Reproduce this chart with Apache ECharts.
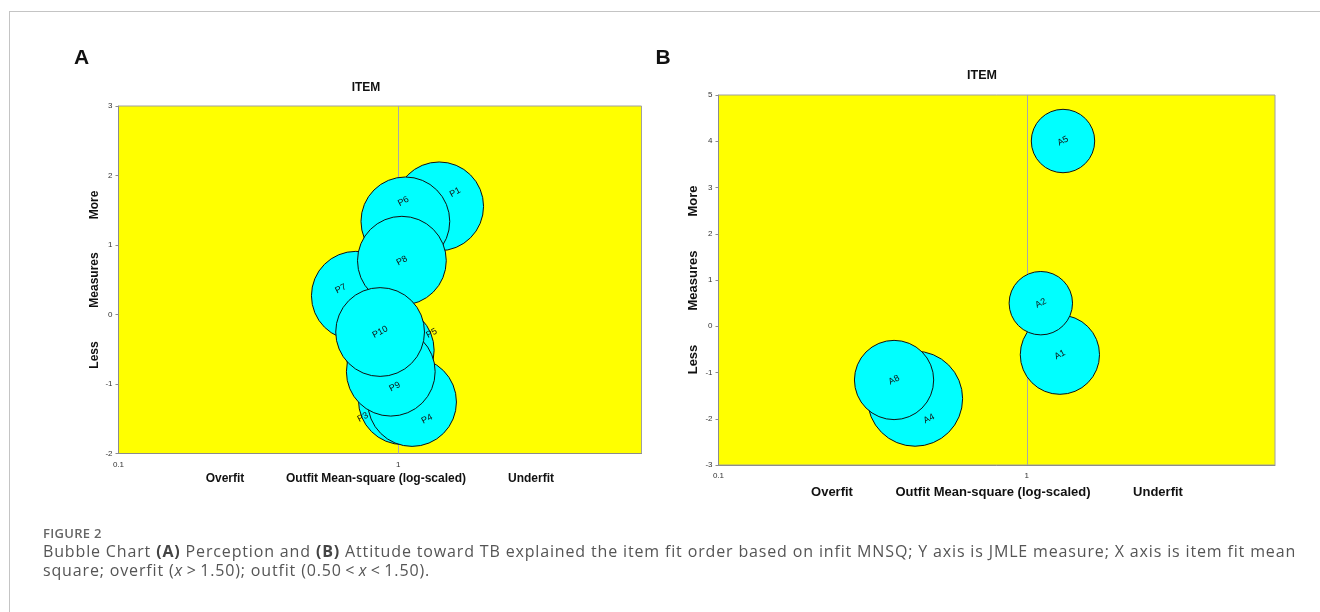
<!DOCTYPE html>
<html><head><meta charset="utf-8">
<script src="https://cdn.jsdelivr.net/npm/echarts@6/dist/echarts.min.js"></script>
<style>
html,body{margin:0;padding:0;background:#fff;width:1320px;height:612px;overflow:hidden;}
#frame{position:absolute;left:9px;top:11px;width:1330px;height:640px;border-left:1px solid #c4c4c4;border-top:1px solid #c4c4c4;}
#chart{position:absolute;left:0;top:0;width:1320px;height:612px;}
#cap{position:absolute;left:43px;top:524px;width:1275px;font-family:'Open Sans','Noto Sans',sans-serif;color:#555;}
#cap .fig{font-size:13px;font-weight:600;line-height:18px;color:#666;letter-spacing:0.3px;}
#cap .txt{font-size:16px;line-height:19px;white-space:nowrap;color:#555;letter-spacing:0.85px;}
#cap b{font-weight:700;color:#444;}
</style></head>
<body>
<div id="frame"></div>
<div id="chart"></div>
<div id="cap">
<div class="fig">FIGURE 2</div>
<div class="txt">Bubble Chart <b>(A)</b> Perception and <b>(B)</b> Attitude toward TB explained the item fit order based on infit MNSQ; Y axis is JMLE measure; X axis is item fit mean<br>square; overfit (<i>x</i>&#8201;&gt;&#8201;1.50); outfit (0.50&#8201;&lt;&#8201;<i>x</i>&#8201;&lt;&#8201;1.50).</div>
</div>
<script>
// ---------- data ----------
const itemsA   = ['P1', 'P6', 'P7', 'P8', 'P3', 'P4', 'P5', 'P9', 'P10'];
const outfitA  = [1.40, 1.06, 0.705, 1.03, 1.038, 1.12, 0.932, 0.94, 0.861];
const measureA = [1.556, 1.34, 0.27, 0.774, -1.233, -1.259, -0.514, -0.823, -0.252];
const seA      = [0.28, 0.28, 0.28, 0.28, 0.28, 0.28, 0.28, 0.28, 0.28];

const itemsB   = ['A5', 'A1', 'A2', 'A4', 'A8'];
const outfitB  = [1.31, 1.28, 1.11, 0.434, 0.371];
const measureB = [4.005, -0.615, 0.499, -1.566, -1.162];
const seB      = [0.20, 0.25, 0.20, 0.30, 0.25];

const xTickLabels = [0.1, 1];
const xRangeA = [0.1, 7.4];
const xRangeB = [0.1, 6.38];
const yRangeA = [-2, 3];
const yRangeB = [-3, 5];

// ---------- styles (label nudges in screen px, before rotation) ----------
const labelNudge = {
  P1: [16, -14], P6: [-2, -20], P7: [-15, -7], P3: [-40, 17], P4: [15, 17],
  P5: [42, -17], P9: [4, 15], A4: [14, 20]
};
const LABEL_ROT = 28;
const PX_PER_SE = 317;
const FONT = '"Liberation Sans", Arial, sans-serif';

// label offset is applied in the rotated text frame; convert screen nudge to local frame
function localOffset(d) {
  const t = LABEL_ROT * Math.PI / 180, c = Math.cos(t), s = Math.sin(t);
  return [d[0] * c - d[1] * s, d[0] * s + d[1] * c];
}

function bubbleData(names, xs, ys, ses) {
  return names.map((n, i) => {
    const item = { name: n, value: [xs[i], ys[i], ses[i]] };
    if (labelNudge[n]) item.label = { offset: localOffset(labelNudge[n]) };
    return item;
  });
}

function xAxisFor(gi, range) {
  return {
    type: 'log', logBase: 10, gridIndex: gi, min: range[0], max: range[1],
    axisLine: { show: true, onZero: false, lineStyle: { color: '#8c8c8c', width: 1 } },
    axisTick: { show: false },
    splitLine: { show: false },
    axisLabel: {
      fontFamily: FONT, fontSize: 8, color: '#333', margin: 7,
      showMaxLabel: false,
      formatter: v => {
        const hit = xTickLabels.find(t => Math.abs(Math.log10(v) - Math.log10(t)) < 1e-6);
        return hit === undefined ? '' : String(hit);
      }
    }
  };
}
function yAxisFor(gi, range) {
  return {
    type: 'value', gridIndex: gi, min: range[0], max: range[1], interval: 1,
    axisLine: { show: true, onZero: false, lineStyle: { color: '#8c8c8c', width: 1 } },
    axisTick: { show: true, length: 3, lineStyle: { color: '#8c8c8c' } },
    splitLine: { show: false },
    axisLabel: { fontFamily: FONT, fontSize: 8, color: '#333', margin: 6 }
  };
}
function bubbleSeries(gi, data) {
  return {
    type: 'scatter', xAxisIndex: gi, yAxisIndex: gi, z: 3,
    data: data,
    symbol: 'circle',
    symbolSize: v => v[2] * PX_PER_SE,
    itemStyle: { color: '#00ffff', borderColor: '#111', borderWidth: 1, opacity: 1 },
    label: {
      show: true, position: 'inside', formatter: p => p.name,
      fontFamily: FONT, fontSize: 9, color: '#111', rotate: LABEL_ROT
    },
    emphasis: { disabled: true },
    markLine: {
      silent: true, symbol: 'none', z: 1, animation: false,
      label: { show: false },
      lineStyle: { color: '#a8a8a8', width: 1, type: 'solid' },
      data: [{ xAxis: 1 }]
    },
    animation: false
  };
}

function txt(text, x, y, size, extra) {
  return Object.assign({
    type: 'text', x: x, y: y, silent: true,
    style: { text: text, font: 'bold ' + size + 'px ' + FONT, fill: '#111',
             align: 'center', verticalAlign: 'middle' }
  }, extra || {});
}
function vtxt(text, x, y, size) {
  return txt(text, x, y, size, { rotation: Math.PI / 2 });
}

const chart = echarts.init(document.getElementById('chart'), null, { renderer: 'canvas' });
chart.setOption({
  backgroundColor: 'transparent',
  animation: false,
  grid: [
    { left: 118.5, top: 106, width: 523, height: 347.5, show: true,
      backgroundColor: '#ffff00', borderColor: '#a0a0a0', borderWidth: 1 },
    { left: 718.5, top: 95, width: 556.5, height: 370, show: true,
      backgroundColor: '#ffff00', borderColor: '#a0a0a0', borderWidth: 1 }
  ],
  xAxis: [xAxisFor(0, xRangeA), xAxisFor(1, xRangeB)],
  yAxis: [yAxisFor(0, yRangeA), yAxisFor(1, yRangeB)],
  series: [
    bubbleSeries(0, bubbleData(itemsA, outfitA, measureA, seA)),
    bubbleSeries(1, bubbleData(itemsB, outfitB, measureB, seB))
  ],
  graphic: [
    txt('A', 81.5, 58, 21),
    txt('B', 663, 58, 21),
    txt('ITEM', 366, 88, 12),
    txt('ITEM', 982, 76, 12.5),
    txt('Overfit', 225, 479, 12),
    txt('Outfit Mean-square (log-scaled)', 376, 479, 12),
    txt('Underfit', 531, 479, 12),
    txt('Overfit', 832, 492, 13),
    txt('Outfit Mean-square (log-scaled)', 993, 492, 13),
    txt('Underfit', 1158, 492, 13),
    vtxt('More', 95, 205, 12),
    vtxt('Measures', 95, 280, 12),
    vtxt('Less', 95, 355, 12),
    vtxt('More', 693, 201, 13),
    vtxt('Measures', 693, 280.5, 13),
    vtxt('Less', 693, 359.5, 13)
  ]
});
</script>
</body></html>
